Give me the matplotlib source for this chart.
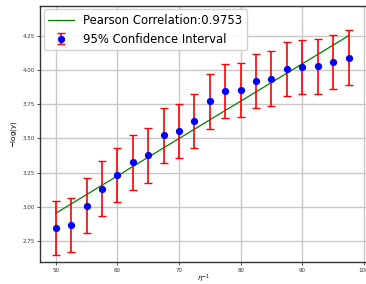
import matplotlib
matplotlib.use("Agg")
import matplotlib.pyplot as plt

# data
eta_inv = [50, 52.5, 55, 57.5, 60, 62.5, 65, 67.5, 70, 72.5,
           75, 77.5, 80, 82.5, 85, 87.5, 90, 92.5, 95, 97.5]
neg_log_y = [2.846, 2.866, 3.007, 3.132, 3.229, 3.325, 3.375, 3.522, 3.553, 3.626,
             3.770, 3.845, 3.854, 3.918, 3.936, 4.008, 4.021, 4.026, 4.055, 4.090]
ci_half = [0.197, 0.198, 0.200, 0.200, 0.198, 0.200, 0.199, 0.200, 0.199, 0.200,
           0.199, 0.198, 0.199, 0.199, 0.199, 0.199, 0.199, 0.199, 0.198, 0.198]
fit_x = [50, 97.5]
fit_y = [2.952, 4.249]
pearson_r = 0.9753

fig = plt.figure(figsize=(3.66, 2.84), dpi=100)
W, H = 366, 284
ax = fig.add_axes([40 / W, (H - 262) / H, 327 / W, 256.3 / H])

ax.plot(fit_x, fit_y, color="green", lw=0.9,
        label=f"Pearson Correlation:{pearson_r}", zorder=3)
ax.errorbar(eta_inv, neg_log_y, yerr=ci_half, fmt="o", color="blue",
            ecolor="red", elinewidth=1.2, capsize=3, capthick=1.0,
            markersize=4.2, label="95% Confidence Interval", zorder=4)

ax.set_xlim(47.45, 100.5)
ax.set_ylim(2.596, 4.469)
ax.set_xticks([50, 60, 70, 80, 90, 100])
ax.set_yticks([2.75, 3.00, 3.25, 3.50, 3.75, 4.00, 4.25])
ax.set_yticklabels(["2.75", "3.00", "3.25", "3.50", "3.75", "4.00", "4.25"])
ax.grid(True, color="#c8c8c8", lw=1.0)
ax.set_axisbelow(True)
ax.tick_params(labelsize=4, length=2, width=0.6, pad=2, colors="#333333")
for s in ax.spines.values():
    s.set_color("#333333")
    s.set_linewidth(1.0)

ax.set_xlabel(r"$\eta^{-1}$", fontsize=5)
ax.xaxis.set_label_coords(0.5, -0.042)
ax.set_ylabel(r"$\mathbf{-}\mathrm{log(y)}$", fontsize=5, labelpad=0)
ax.yaxis.set_label_coords(-0.063, 0.5)

ax.legend(loc="upper left", fontsize=8.4, framealpha=0.9, borderpad=0.4,
          handlelength=2.2, borderaxespad=0.3)

fig.savefig("out.png", dpi=100)
